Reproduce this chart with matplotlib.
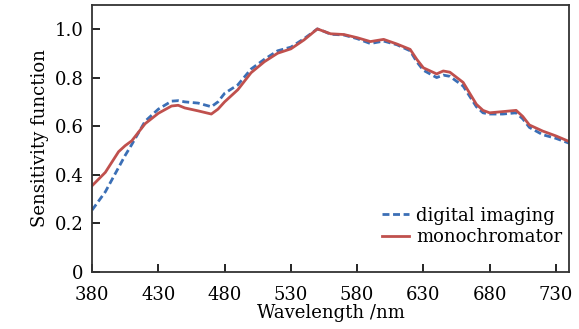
import matplotlib
matplotlib.use("Agg")
import matplotlib.pyplot as plt
import numpy as np

wavelength = [380, 390, 400, 405, 410, 420, 430, 440, 445, 450, 460, 470, 475, 480, 490, 500,
              510, 520, 530, 540, 550, 555, 560, 570, 580, 590, 600, 610, 620, 625, 630, 640,
              645, 650, 660, 670, 675, 680, 690, 700, 705, 710, 720, 730, 740]
digital = [0.255, 0.33, 0.43, 0.48, 0.525, 0.62, 0.67, 0.703, 0.705, 0.70, 0.695, 0.68, 0.70,
           0.735, 0.77, 0.835, 0.875, 0.91, 0.925, 0.96, 1.0, 0.99, 0.978, 0.975, 0.96, 0.94,
           0.95, 0.935, 0.91, 0.865, 0.83, 0.80, 0.81, 0.805, 0.765, 0.68, 0.655, 0.65, 0.65,
           0.655, 0.63, 0.595, 0.565, 0.55, 0.53]
mono = [0.355, 0.41, 0.495, 0.52, 0.54, 0.61, 0.653, 0.683, 0.686, 0.675, 0.663, 0.65, 0.67,
        0.70, 0.75, 0.82, 0.865, 0.90, 0.918, 0.955, 1.0, 0.99, 0.98, 0.977, 0.964, 0.948,
        0.957, 0.938, 0.916, 0.875, 0.84, 0.815, 0.827, 0.822, 0.78, 0.69, 0.665, 0.655,
        0.66, 0.665, 0.64, 0.605, 0.58, 0.56, 0.537]

plt.rcParams['font.family'] = ['DejaVu Serif']
plt.rcParams['font.size'] = 13

fig = plt.figure(figsize=(5.79, 3.29), dpi=100)
ax = fig.add_axes([0.159, 0.173, 0.824, 0.813])

ax.plot(wavelength, digital, '--', color='#3b6fb6', lw=2, dashes=(2.5, 1.3),
        label='digital imaging')
ax.plot(wavelength, mono, '-', color='#c0504d', lw=2, label='monochromator')

ax.set_xlim(380, 740)
ax.set_ylim(0, 1.1)
ax.set_xticks(np.arange(380, 741, 50))
ax.set_yticks([0, 0.2, 0.4, 0.6, 0.8, 1.0])
ax.set_yticklabels(['0', '0.2', '0.4', '0.6', '0.8', '1.0'])
ax.tick_params(direction='in', length=6, width=1.2, top=False, right=False)
ax.tick_params(axis='x', pad=10)
ax.tick_params(axis='y', pad=6)
for s in ax.spines.values():
    s.set_linewidth(1.3)
    s.set_color('#333333')

ax.set_xlabel('Wavelength /nm', labelpad=0)
ax.set_ylabel('Sensitivity function', labelpad=4)
ax.legend(loc='lower right', frameon=False, handlelength=1.5, handletextpad=0.4,
          labelspacing=0.2, borderaxespad=0.0, bbox_to_anchor=(1.0, 0.07))

fig.savefig('out.png', dpi=100)
